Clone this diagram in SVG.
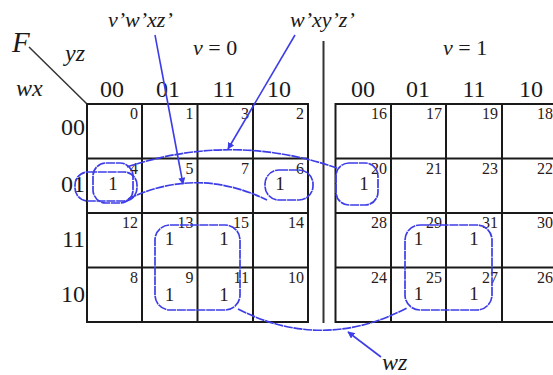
<svg xmlns="http://www.w3.org/2000/svg" width="553" height="375" viewBox="0 0 553 375">
<style>
.grid{stroke:#1a1a1a;stroke-width:2;fill:none}
.lbl{font-family:"Liberation Serif",serif;fill:#1a1a1a}
.it{font-style:italic}
.hd{font-size:24px;text-anchor:middle}
.rl{font-size:24px;text-anchor:end}
.num{font-family:"Liberation Serif",serif;font-size:16px;text-anchor:end;fill:#2a1a1a}
.one{font-family:"Liberation Serif",serif;font-size:19px;text-anchor:middle;fill:#2a1a1a}
.loop{fill:none;stroke:#3d3de8;stroke-width:1.7;stroke-dasharray:9 0.8}
.con{fill:none;stroke:#3d3de8;stroke-width:1.6}
</style>
<defs>
<marker id="ah" viewBox="0 0 10 10" refX="9" refY="5" markerWidth="7" markerHeight="7" orient="auto" markerUnits="userSpaceOnUse">
<path d="M0,0 L10,5 L0,10 z" fill="#3d3de8"/>
</marker>
</defs>
<rect width="553" height="375" fill="#ffffff"/>

<g id="labels">
<text class="lbl it" x="12" y="52" font-size="29">F</text>
<line x1="29" y1="47" x2="87" y2="104" stroke="#333" stroke-width="1.5"/>
<text class="lbl it" x="65" y="61" font-size="24">yz</text>
<text class="lbl it" x="16" y="96" font-size="24">wx</text>
<text class="lbl" x="193" y="55" font-size="22"><tspan font-style="italic">v</tspan> = 0</text>
<text class="lbl" x="443" y="55" font-size="22"><tspan font-style="italic">v</tspan> = 1</text>
<line x1="323.5" y1="41" x2="323.5" y2="323" stroke="#333" stroke-width="2"/>
</g>

<g id="map-v0">
<rect class="grid" x="87" y="104" width="221" height="218"/>
<path class="grid" d="M142,104V322M197.5,104V322M253,104V322M87,158.5H308M87,213H308M87,267.5H308"/>
<text class="lbl hd" x="112" y="97">00</text>
<text class="lbl hd" x="168" y="97">01</text>
<text class="lbl hd" x="224" y="97">11</text>
<text class="lbl hd" x="279" y="97">10</text>
<text class="lbl rl" x="85" y="135">00</text>
<text class="lbl rl" x="85" y="192">01</text>
<text class="lbl rl" x="85" y="247">11</text>
<text class="lbl rl" x="85" y="302">10</text>
<text class="num" x="138" y="119">0</text>
<text class="num" x="193.5" y="119">1</text>
<text class="num" x="249" y="119">3</text>
<text class="num" x="304" y="119">2</text>
<text class="num" x="138" y="173.5">4</text>
<text class="num" x="193.5" y="173.5">5</text>
<text class="num" x="249" y="173.5">7</text>
<text class="num" x="304" y="173.5">6</text>
<text class="num" x="138" y="228">12</text>
<text class="num" x="193.5" y="228">13</text>
<text class="num" x="249" y="228">15</text>
<text class="num" x="304" y="228">14</text>
<text class="num" x="138" y="282.5">8</text>
<text class="num" x="193.5" y="282.5">9</text>
<text class="num" x="249" y="282.5">11</text>
<text class="num" x="304" y="282.5">10</text>
<text class="one" x="113" y="190">1</text>
<text class="one" x="280" y="190">1</text>
<text class="one" x="169.5" y="245">1</text>
<text class="one" x="224" y="245">1</text>
<text class="one" x="169.5" y="301">1</text>
<text class="one" x="224" y="301">1</text>
</g>

<g id="map-v1">
<path class="grid" d="M557,104H335.5V322H557M391,104V322M446,104V322M502,104V322M335.5,158.5H557M335.5,213H557M335.5,267.5H557"/>
<text class="lbl hd" x="363" y="97">00</text>
<text class="lbl hd" x="418" y="97">01</text>
<text class="lbl hd" x="474" y="97">11</text>
<text class="lbl hd" x="531" y="97">10</text>
<text class="num" x="387" y="119">16</text>
<text class="num" x="442" y="119">17</text>
<text class="num" x="498" y="119">19</text>
<text class="num" x="553" y="119">18</text>
<text class="num" x="387" y="173.5">20</text>
<text class="num" x="442" y="173.5">21</text>
<text class="num" x="498" y="173.5">23</text>
<text class="num" x="553" y="173.5">22</text>
<text class="num" x="387" y="228">28</text>
<text class="num" x="442" y="228">29</text>
<text class="num" x="498" y="228">31</text>
<text class="num" x="553" y="228">30</text>
<text class="num" x="387" y="282.5">24</text>
<text class="num" x="442" y="282.5">25</text>
<text class="num" x="498" y="282.5">27</text>
<text class="num" x="553" y="282.5">26</text>
<text class="one" x="364" y="190">1</text>
<text class="one" x="418.5" y="245">1</text>
<text class="one" x="474" y="245">1</text>
<text class="one" x="418.5" y="300">1</text>
<text class="one" x="474" y="300">1</text>
</g>

<g id="loops">
<rect class="loop" x="93" y="163" width="40" height="40" rx="13"/>
<rect class="loop" x="75" y="172" width="62" height="29" rx="13"/>
<rect class="loop" x="265" y="170" width="48" height="30" rx="14"/>
<rect class="loop" x="336" y="163" width="42" height="42" rx="13"/>
<rect class="loop" x="155" y="225" width="85" height="85" rx="15"/>
<rect class="loop" x="405" y="225" width="87" height="85" rx="15"/>
</g>

<g id="connectors">
<path class="loop" d="M127,167 Q232,132 337,168"/>
<path class="loop" d="M128,199 Q197,166 267,200"/>
<path class="loop" d="M238,309 Q322,352 407,308"/>
<line class="con" x1="155" y1="35" x2="183" y2="184" marker-end="url(#ah)"/>
<line class="con" x1="295" y1="35" x2="228" y2="149" marker-end="url(#ah)"/>
<line class="con" x1="381" y1="357" x2="348" y2="332" marker-end="url(#ah)"/>
</g>

<g id="term-labels">
<text class="lbl it" x="108" y="27" font-size="22">v’w’xz’</text>
<text class="lbl it" x="290" y="27" font-size="22">w’xy’z’</text>
<text class="lbl it" x="382" y="370" font-size="24">wz</text>
</g>
</svg>
